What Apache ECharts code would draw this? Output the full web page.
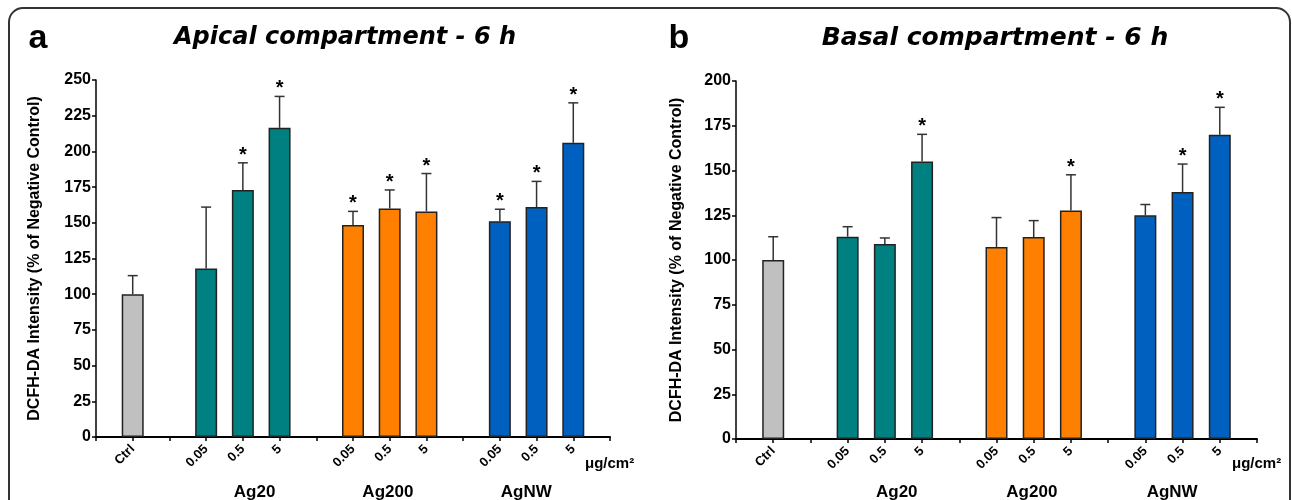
<!DOCTYPE html>
<html>
<head>
<meta charset="utf-8">
<script src="https://cdn.jsdelivr.net/npm/echarts@6/dist/echarts.min.js"></script>
<style>
  html, body { margin: 0; padding: 0; background: #fff; }
  #main { width: 1292px; height: 500px; }
</style>
</head>
<body>
<div id="main"></div>
<script>
  // x slots: blanks ('') are spacers between the groups
  const categories = ['', 'Ctrl', '', '0.05', '0.5', '5', '', '0.05', '0.5', '5', '', '0.05', '0.5', '5', ''];
  const groups = ['Ag20', 'Ag200', 'AgNW'];

  // bar order: Ctrl, Ag20 x3, Ag200 x3, AgNW x3
  const apicalMean = [100, 118, 173, 216.5, 148.5, 160, 158, 151, 161, 206];
  const apicalSd = [13, 43, 19, 22, 9.5, 13, 26.5, 8.5, 18, 28];
  const apicalSig = [0, 0, 1, 1, 1, 1, 1, 1, 1, 1];

  const basalMean = [100, 113, 109, 155, 107.3, 112.8, 127.6, 125, 138, 170];
  const basalSd = [13, 5.6, 3.3, 15.2, 16.4, 9.2, 20, 6, 15.6, 15.3];
  const basalSig = [0, 0, 0, 1, 0, 0, 1, 0, 1, 1];

  const ctrlColor = '#C0C0C0';
  const groupColors = ['#008080', '#FF8000', '#0060C0'];
  const FONT = '"Liberation Sans", Arial, sans-serif';

  const panels = [
    { title: 'Apical compartment - 6 h', tag: 'a', mean: apicalMean, sd: apicalSd, sig: apicalSig, max: 250,
      grid: { left: 96, top: 80, width: 514, height: 357 }, titleX: 345, titleSize: 24, tagX: 38, nameGap: 53 },
    { title: 'Basal compartment - 6 h', tag: 'b', mean: basalMean, sd: basalSd, sig: basalSig, max: 200,
      grid: { left: 736, top: 81, width: 521, height: 358 }, titleX: 995, titleSize: 25, tagX: 679, nameGap: 51 }
  ];

  const slots = categories.map((c, i) => (c === '' ? -1 : i)).filter(i => i >= 0);
  const colorOf = k => (k === 0 ? ctrlColor : groupColors[Math.floor((k - 1) / 3)]);

  const grid = [], xAxis = [], yAxis = [], series = [];
  panels.forEach((p, g) => {
    grid.push(Object.assign({ containLabel: false }, p.grid));
    xAxis.push({
      type: 'category', gridIndex: g, data: categories, boundaryGap: false,
      axisLine: { lineStyle: { color: '#000', width: 2 } },
      axisTick: { interval: 0, length: 4, lineStyle: { color: '#000', width: 1.5 } },
      axisLabel: { interval: 0, rotate: 45, margin: 10, color: '#000', fontFamily: FONT, fontWeight: 'bold', fontSize: 13 },
      splitLine: { show: false }
    });
    yAxis.push({
      type: 'value', gridIndex: g, min: 0, max: p.max, interval: 25,
      name: 'DCFH-DA Intensity (% of Negative Control)', nameLocation: 'middle', nameGap: p.nameGap,
      nameTextStyle: { color: '#000', fontFamily: FONT, fontWeight: 'bold', fontSize: 16 },
      axisLine: { show: true, lineStyle: { color: '#000', width: 1.5 } },
      axisTick: { show: true, length: 4, lineStyle: { color: '#000', width: 1.5 } },
      axisLabel: { margin: 5, color: '#000', fontFamily: FONT, fontWeight: 'bold', fontSize: 16 },
      splitLine: { show: false }
    });
    const barData = categories.map(() => null);
    slots.forEach((s, k) => { barData[s] = { value: p.mean[k], itemStyle: { color: colorOf(k) } }; });
    series.push({
      type: 'bar', xAxisIndex: g, yAxisIndex: g, data: barData, barWidth: 22,
      itemStyle: { borderColor: '#222', borderWidth: 1.5 }, silent: true
    });
    series.push({
      type: 'custom', xAxisIndex: g, yAxisIndex: g, silent: true, z: 3,
      data: slots.map((s, k) => [s, p.mean[k], p.sd[k], p.sig[k]]),
      renderItem: (params, api) => {
        const top = api.coord([api.value(0), api.value(1)]);
        const end = api.coord([api.value(0), api.value(1) + api.value(2)]);
        const st = { stroke: '#333', lineWidth: 1.5 };
        const children = [
          { type: 'line', shape: { x1: top[0], y1: top[1], x2: end[0], y2: end[1] }, style: st },
          { type: 'line', shape: { x1: end[0] - 5, y1: end[1], x2: end[0] + 5, y2: end[1] }, style: st }
        ];
        if (api.value(3)) {
          children.push({ type: 'text', x: end[0], y: end[1] - 7.5,
            style: { text: '*', fill: '#000', font: 'bold 20px ' + FONT, align: 'center', verticalAlign: 'middle' } });
        }
        return { type: 'group', children };
      }
    });
  });

  const chart = echarts.init(document.getElementById('main'));
  chart.setOption({ animation: false, grid, xAxis, yAxis, series });

  // group labels sit a little off the middle dose, as in the figure
  const groupShift = [0.32, -0.05, -0.28];
  const graphic = [{
    type: 'rect', shape: { x: 9, y: 8, width: 1281, height: 600, r: 14 },
    style: { fill: 'none', stroke: '#333', lineWidth: 2 }, silent: true
  }];
  panels.forEach((p, g) => {
    const px = i => chart.convertToPixel({ gridIndex: g }, [i, 0]);
    const step = px(1)[0] - px(0)[0];
    graphic.push({ type: 'text', x: p.titleX, y: 38,
      style: { text: p.title, fill: '#000', font: 'italic bold ' + p.titleSize + 'px "DejaVu Sans"', align: 'center', verticalAlign: 'middle' } });
    graphic.push({ type: 'text', x: p.tagX, y: 39,
      style: { text: p.tag, fill: '#000', font: 'bold 34px ' + FONT, align: 'center', verticalAlign: 'middle' } });
    groups.forEach((name, j) => {
      const mid = 4 + j * 4;
      graphic.push({ type: 'text', x: px(mid)[0] + groupShift[j] * step, y: 492,
        style: { text: name, fill: '#000', font: 'bold 17px ' + FONT, align: 'center', verticalAlign: 'middle' } });
    });
    const last = px(categories.length - 1)[0];
    graphic.push({ type: 'text', x: last - 25, y: 464,
      style: { text: 'μg/cm²', fill: '#000', font: 'bold 15px ' + FONT, align: 'left', verticalAlign: 'middle' } });
  });
  chart.setOption({ graphic });
</script>
</body>
</html>
